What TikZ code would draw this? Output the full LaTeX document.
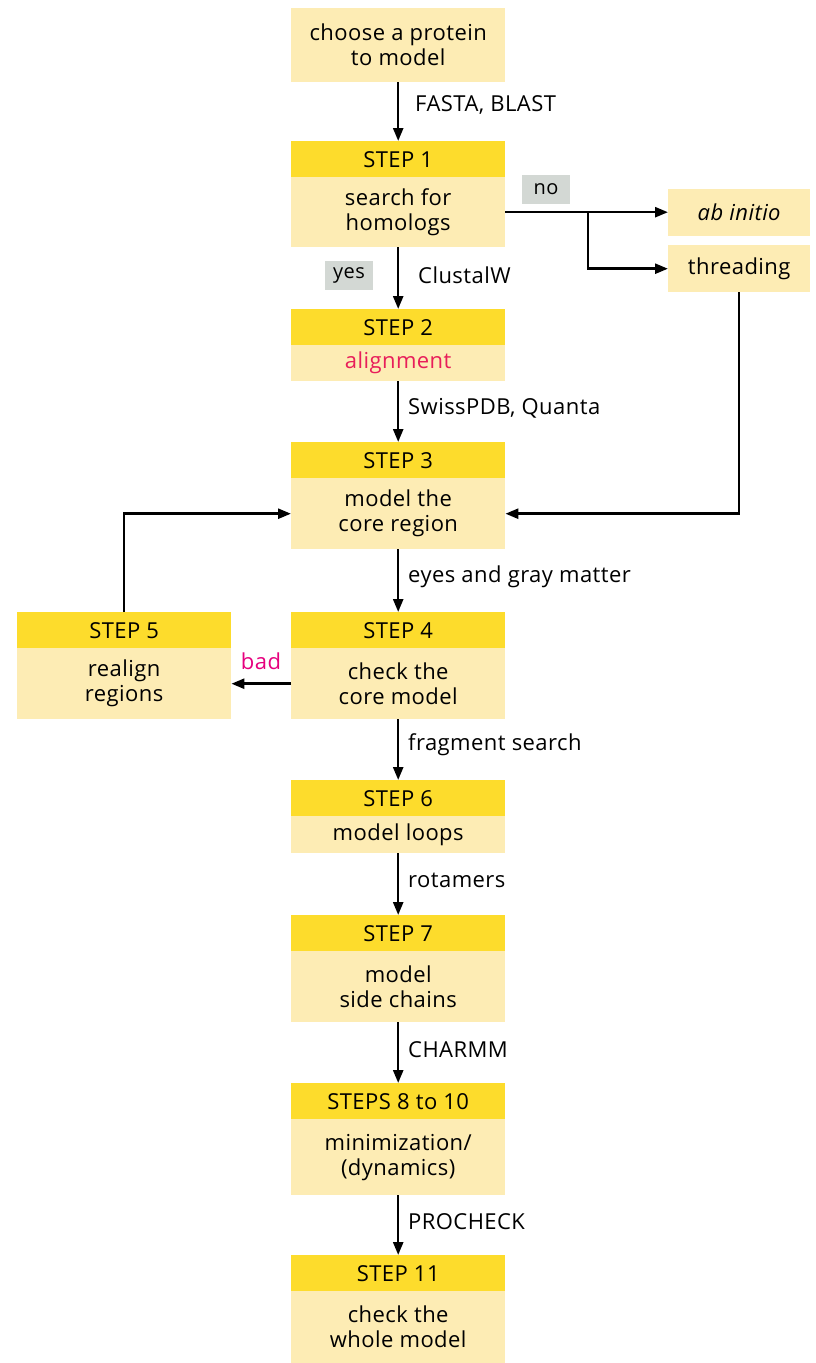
\documentclass[tikz,border=0pt]{standalone}
\usepackage{fontspec}
\setmainfont[LetterSpace=2]{Open Sans}
\usetikzlibrary{arrows.meta}
\definecolor{hdrc}{RGB}{253,220,44}
\definecolor{bodyc}{RGB}{253,236,180}
\definecolor{grayc}{RGB}{211,216,212}
\definecolor{pinkc}{RGB}{230,0,126}
\definecolor{redc}{RGB}{232,30,90}
\newcommand{\glfont}{\fontsize{20}{22}\selectfont}
\tikzset{
  hdr/.style={fill=hdrc, minimum width=214pt, minimum height=36pt, anchor=north west, inner sep=0pt, align=center},
  bodybox/.style={fill=bodyc, minimum width=214pt, anchor=north west, inner sep=0pt, align=center},
  sidebox/.style={fill=bodyc, minimum width=142pt, minimum height=47pt, anchor=north west, inner sep=0pt, align=center},
  glabel/.style={fill=grayc, minimum width=48pt, minimum height=29pt, inner sep=0pt},
  elabel/.style={anchor=west, inner sep=0pt},
  arr/.style={line width=2.5pt, -{Triangle[length=13pt,width=10pt]}},
}
\begin{document}
\begin{tikzpicture}[x=1pt,y=-1pt,font=\fontsize{22}{25}\selectfont]
\useasboundingbox (0,0) rectangle (815,1363);
% top
\node[bodybox, minimum height=74pt] (top) at (291,8) {choose a protein\\to model};
% step 1
\node[hdr] (s1h) at (291,141) {STEP 1};
\node[bodybox, minimum height=70pt] (s1b) at (291,177) {search for\\homologs};
% side
\node[sidebox] (abi) at (668,189) {\itshape ab initio};
\node[sidebox] (thr) at (668,245) {threading};
% step 2
\node[hdr] (s2h) at (291,309) {STEP 2};
\node[bodybox, minimum height=36pt, text=redc] (s2b) at (291,345) {alignment};
% step 3
\node[hdr] (s3h) at (291,442) {STEP 3};
\node[bodybox, minimum height=71pt] (s3b) at (291,478) {model the\\core region};
% step 4
\node[hdr] (s4h) at (291,612) {STEP 4};
\node[bodybox, minimum height=71pt] (s4b) at (291,648) {check the\\core model};
% step 5
\node[hdr] (s5h) at (17,612) {STEP 5};
\node[bodybox, minimum height=71pt] (s5b) at (17,648) {realign\\regions};
% step 6
\node[hdr] (s6h) at (291,780) {STEP 6};
\node[bodybox, minimum height=37pt] (s6b) at (291,816) {model loops};
% step 7
\node[hdr] (s7h) at (291,915) {STEP 7};
\node[bodybox, minimum height=71pt] (s7b) at (291,951) {model\\side chains};
% steps 8-10
\node[hdr] (s8h) at (291,1083) {STEPS 8 to 10};
\node[bodybox, minimum height=76pt] (s8b) at (291,1119) {minimization/\\(dynamics)};
% step 11
\node[hdr] (s11h) at (291,1255) {STEP 11};
\node[bodybox, minimum height=72pt] (s11b) at (291,1291) {check the\\whole model};

% gray labels
\node[glabel] (no) at (546,189) {\glfont no};
\node[glabel] (yes) at (349,275) {\glfont yes};

% arrows
\draw[arr] (top.south) -- (s1h.north);
\draw[arr] (s1b.south) -- (s2h.north);
\draw[arr] (s2b.south) -- (s3h.north);
\draw[arr] (s3b.south) -- (s4h.north);
\draw[arr] (s4b.south) -- (s6h.north);
\draw[arr] (s6b.south) -- (s7h.north);
\draw[arr] (s7b.south) -- (s8h.north);
\draw[arr] (s8b.south) -- (s11h.north);
\draw[arr] (s1b.east) -- (s1b.east -| abi.west);
\coordinate (br) at (588,0);
\draw[arr] (s1b.east -| br) |- (thr.west);
\draw[arr] (thr.south) |- (s3b.east);
\draw[arr] (s5h.north) |- (s3b.west);
\draw[arr] (s4b.west) -- (s5b.east);

% edge labels
\node[elabel] (l1) at (415,105) {FASTA, BLAST};
\node[elabel] (l2) at (418,275) {ClustalW};
\node[elabel] (l3) at (408,408) {SwissPDB, Quanta};
\node[elabel] (l4) at (408,577) {eyes and gray matter};
\node[elabel] (l5) at (408,745) {fragment search};
\node[elabel] (l6) at (408,880) {rotamers};
\node[elabel] (l7) at (408,1050) {CHARMM};
\node[elabel] (l8) at (408,1222) {PROCHECK};
\node[text=pinkc, inner sep=0pt] (bad) at (261,661) {bad};
\end{tikzpicture}
\end{document}
